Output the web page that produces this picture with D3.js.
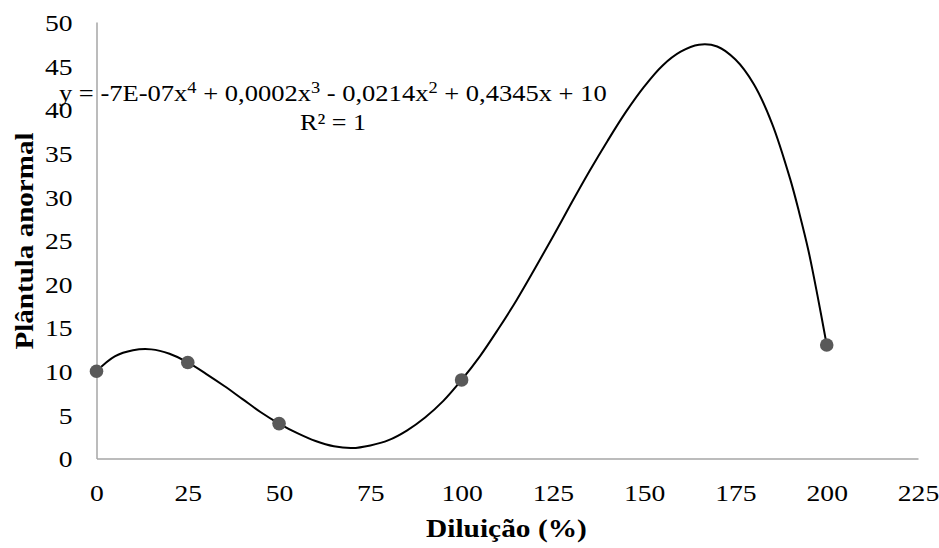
<!DOCTYPE html>
<html>
<head>
<meta charset="utf-8">
<script src="https://cdn.jsdelivr.net/npm/d3@7"></script>
<style>
  body { margin: 0; background: #fff; }
  text { font-family: "Liberation Serif", "Times New Roman", serif; fill: #000; }
</style>
</head>
<body>
<svg id="chart" width="939" height="548"></svg>
<script>
// observed points
const dilution = [0, 25, 50, 100, 200];
const abnormal = [10, 11, 4, 9, 13];

// trendline
const trendX = [0, 5, 10, 15, 20, 25, 30, 35, 40, 45, 50, 55, 60, 65, 70, 75, 80, 85, 90, 95, 100,
                105, 110, 115, 120, 125, 130, 135, 140, 145, 150, 155, 160, 165, 170, 175, 180, 185, 190, 192.5, 195, 197.5, 200];
const trendY = [10, 11.7, 12.4, 12.5, 12, 11, 9.7, 8.3, 6.8, 5.3, 4, 2.9, 2, 1.4, 1.2, 1.5, 2.1, 3.2, 4.7, 6.6, 9,
                11.7, 14.8, 18.1, 21.7, 25.4, 29.2, 32.9, 36.4, 39.7, 42.6, 45, 46.6, 47.4, 47.2, 45.7, 42.9, 38.4, 32, 28.1, 23.8, 18.6, 13];

const xTicks = [0, 25, 50, 75, 100, 125, 150, 175, 200, 225];
const yTicks = [0, 5, 10, 15, 20, 25, 30, 35, 40, 45, 50];

const equation = ["y = -7E-07x", "4", " + 0,0002x", "3", " - 0,0214x", "2", " + 0,4345x + 10"];

const svg = d3.select("#chart");
const plotLeft = 96.5, plotRight = 918, plotTop = 22, plotBottom = 458.5;
const stretch = 1.15; // text in the picture is a bit wider than tall

const x = d3.scaleLinear().domain([0, 225]).range([plotLeft, plotRight]);
const y = d3.scaleLinear().domain([0, 50]).range([plotBottom, plotTop]);

// squeeze/stretch a text horizontally so it spans a given width from its x
function fitWidth(sel, x0, y0, width) {
	const w = sel.node().getBBox().width;
	const k = width / w;
	sel.attr("transform", `translate(${x0},${y0}) scale(${k},1) translate(${-x0},${-y0})`);
}

// axes
const xAxis = d3.axisBottom(x).tickValues(xTicks).tickSize(0).tickPadding(26);
const yAxis = d3.axisLeft(y).tickValues(yTicks).tickSize(0).tickPadding(24);

const gx = svg.append("g").attr("transform", `translate(0,${plotBottom})`).call(xAxis);
const gy = svg.append("g").attr("transform", `translate(${plotLeft},0)`).call(yAxis);

[gx, gy].forEach(g => {
	g.select(".domain").attr("stroke", "#a6a6a6").attr("stroke-width", 1.5);
	g.selectAll("text")
	 .style("font-family", "'Liberation Serif', 'Times New Roman', serif")
	 .style("font-size", "24px")
	 .attr("fill", "#000")
	 .attr("transform", `scale(${stretch},1)`);
});
gx.selectAll("text").attr("dy", "0.7em");
gy.selectAll("text").attr("dy", "0.35em").attr("x", -24 / stretch);

// trendline
const line = d3.line()
	.x(d => x(d[0]))
	.y(d => y(d[1]))
	.curve(d3.curveCatmullRom);
svg.append("path")
   .datum(trendX.map((v, i) => [v, trendY[i]]))
   .attr("d", line)
   .attr("fill", "none")
   .attr("stroke", "#000")
   .attr("stroke-width", 2);

// points
svg.selectAll(".pt")
   .data(dilution).enter()
   .append("circle")
   .attr("class", "pt")
   .attr("cx", d => x(d))
   .attr("cy", (d, i) => y(abnormal[i]))
   .attr("r", 6.8)
   .attr("fill", "#595959");

// equation label
const eq = svg.append("text")
	.attr("x", 59)
	.attr("y", 101)
	.style("font-size", "23px");
equation.forEach((s, i) => {
	if (i % 2 === 1) {
		eq.append("tspan").attr("dy", -8).style("font-size", "16px").text(s);
	} else {
		eq.append("tspan").attr("dy", i === 0 ? 0 : 8).text(s);
	}
});
fitWidth(eq, 59, 101, 548);

const r2 = svg.append("text")
   .attr("x", 300)
   .attr("y", 130)
   .style("font-size", "23px")
   .text("R² = 1");
fitWidth(r2, 300, 130, 66);

// axis titles
const xt = svg.append("text")
   .attr("x", 426)
   .attr("y", 537)
   .style("font-size", "26px")
   .style("font-weight", "bold")
   .text("Diluição (%)");
fitWidth(xt, 426, 537, 161);

svg.append("text")
   .attr("transform", "translate(33,241) rotate(-90)")
   .attr("text-anchor", "middle")
   .attr("textLength", 217)
   .attr("lengthAdjust", "spacingAndGlyphs")
   .style("font-size", "26px")
   .style("font-weight", "bold")
   .text("Plântula anormal");
</script>
</body>
</html>
